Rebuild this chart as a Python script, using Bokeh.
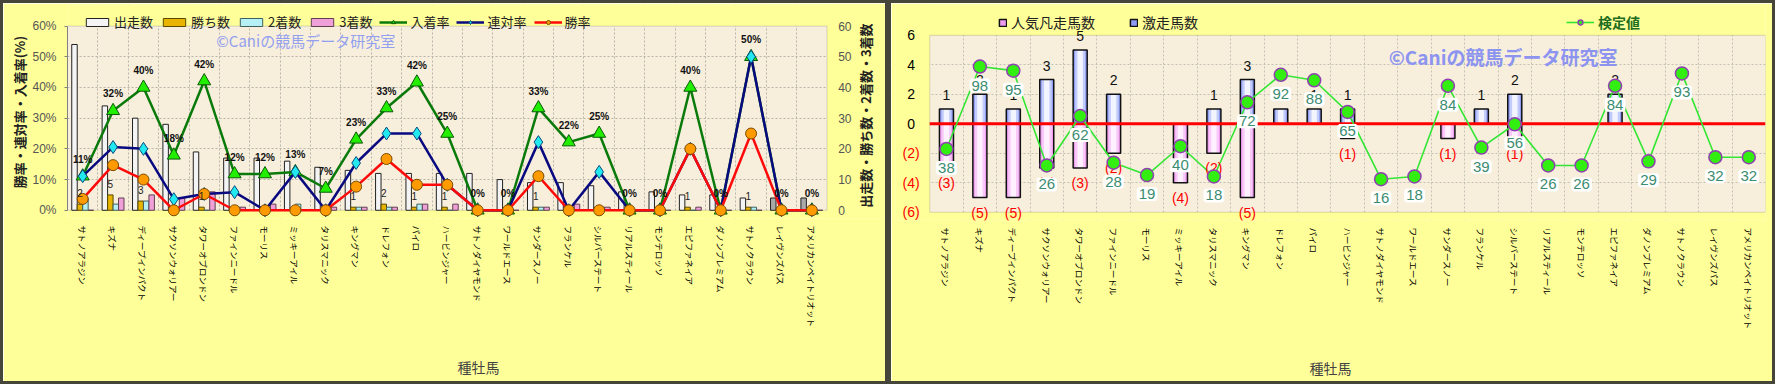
import math
from bokeh.plotting import figure
from bokeh.core.properties import value
from bokeh.models import (ColumnDataSource, Range1d, FixedTicker,
                          CustomJSTickFormatter, PrintfTickFormatter, Legend,
                          LegendItem, LabelSet, Label, BoxAnnotation)
from bokeh.transform import dodge
from bokeh.embed import file_html
from bokeh.resources import INLINE

# ---------------- data ----------------
sires = ["サトノアラジン", "キズナ", "ディープインパクト", "サクソンウォリアー", "タワーオブロンドン",
         "ファインニードル", "モーリス", "ミッキーアイル", "タリスマニック", "キングマン",
         "ドレフォン", "パイロ", "ハービンジャー", "サトノダイヤモンド", "ワールドエース",
         "サンダースノー", "フランケル", "シルバーステート", "リアルスティール", "モンテロッソ",
         "エピファネイア", "ダノンプレミアム", "サトノクラウン", "レイヴンズパス", "アメリカンペイトリオット"]

starts = [54, 34, 30, 28, 19, 17, 17, 16, 14, 13, 12, 12, 12, 12, 10, 9, 9, 8, 6, 6, 5, 5, 4, 4, 4]
wins = [2, 5, 3, 0, 1, 0, 0, 0, 0, 1, 2, 1, 1, 0, 0, 1, 0, 0, 0, 0, 1, 0, 1, 0, 0]
seconds = [4, 2, 3, 1, 0, 1, 0, 2, 0, 1, 1, 2, 0, 0, 0, 1, 0, 1, 0, 0, 0, 0, 1, 0, 0]
thirds = [0, 4, 5, 4, 6, 1, 2, 0, 1, 1, 1, 2, 2, 0, 0, 1, 2, 1, 0, 0, 1, 0, 0, 0, 0]

place_rate = [11.1, 32.4, 40.0, 17.9, 42.1, 11.8, 11.8, 12.5, 7.1, 23.1, 33.3, 41.7, 25.0,
              0, 0, 33.3, 22.2, 25.0, 0, 0, 40.0, 0, 50.0, 0, 0]
quinella_rate = [11.1, 20.6, 20.0, 3.6, 5.3, 5.9, 0, 12.5, 0, 15.4, 25.0, 25.0, 8.3,
                 0, 0, 22.2, 0, 12.5, 0, 0, 20.0, 0, 50.0, 0, 0]
win_rate = [3.7, 14.7, 10.0, 0, 5.3, 0, 0, 0, 0, 7.7, 16.7, 8.3, 8.3,
            0, 0, 11.1, 0, 0, 0, 0, 20.0, 0, 25.0, 0, 0]

upset_counts = [1, 2, 1, 3, 5, 2, 0, 0, 1, 3, 1, 1, 1, 0, 0, 0, 1, 2, 0, 0, 2, 0, 0, 0, 0]
flop_counts = [-3, -5, -5, -3, -3, -2, 0, -4, -2, -5, 0, 0, -1, 0, 0, -1, 0, -1, 0, 0, 0, 0, 0, 0, 0]
test_values = [38, 98, 95, 26, 62, 28, 19, 40, 18, 72, 92, 88, 65, 16, 18, 84, 39, 56, 26, 26, 84, 29, 93, 32, 32]

left_ticks = [0, 10, 20, 30, 40, 50, 60]
right_ticks = [-6, -4, -2, 0, 2, 4, 6]

# ---------------- styles ----------------
JP = "Noto Sans CJK JP"
SANS = value("Liberation Sans")
BG_OUT = "#FFFF99"
BG_IN = "#F7EFDC"
FRAME = "3px solid #45453a"
gray_starts = {"レイヴンズパス", "アメリカンペイトリオット"}
start_fill = ["#A9A9A9" if s in gray_starts else "#F4F4F4" for s in sires]

n = len(sires)
xs = [i + 0.5 for i in range(n)]
name_fmt = CustomJSTickFormatter(args=dict(names=sires), code="return names[Math.floor(tick)] || '';")


def fmt_int(v):
    return str(v) if v else ""


def style_cat_axis(a, standoff):
    a.ticker = FixedTicker(ticks=xs)
    a.formatter = name_fmt
    a.major_label_orientation = "vertical"
    a.major_label_text_font = JP
    a.major_label_text_font_size = "8.5px"
    a.major_label_text_color = "#000000"
    a.major_tick_line_color = None
    a.minor_tick_line_color = None
    a.axis_line_color = None
    a.major_label_standoff = 1
    a.axis_label = "種牡馬"
    a.axis_label_text_font = JP
    a.axis_label_text_font_style = "normal"
    a.axis_label_text_font_size = "14px"
    a.axis_label_text_color = "#444444"
    a.axis_label_standoff = standoff
    a.bounds = (0, n)


def plot_area(p, x0, x1, y0, y1):
    """beige plotting area; yellow covers the frame outside it (over the grid); grey outline"""
    p.add_layout(BoxAnnotation(left=x0, right=x1, bottom=y0, top=y1, fill_color=BG_IN,
                               fill_alpha=1, line_alpha=0, level="image"))
    for kw in (dict(bottom=y1), dict(top=y0), dict(right=x0), dict(left=x1)):
        p.add_layout(BoxAnnotation(fill_color=BG_OUT, fill_alpha=1, line_alpha=0,
                                   level="underlay", **kw))
    p.add_layout(BoxAnnotation(left=x0, right=x1, bottom=y0, top=y1, fill_alpha=0,
                               line_color="#808080", line_width=1, level="underlay"))


# ================= LEFT CHART =================
src1 = ColumnDataSource(dict(
    x=xs, starts=starts, wins=wins, seconds=seconds, thirds=thirds,
    place=place_rate, quin=quinella_rate, win=win_rate, start_fill=start_fill,
    place_lbl=["%d%%" % int(v + 0.5) for v in place_rate],
    win_lbl=[fmt_int(v) for v in wins],
))

PX1 = 179 / left_ticks[-1]          # px per unit in the left chart
X1_RIGHT = n + 62 / 30.16          # frame widened right to hold right tick labels / title
p1 = figure(width=882, height=378, x_range=Range1d(0, X1_RIGHT),
            y_range=Range1d(-8 / PX1, left_ticks[-1] + 20 / PX1),
            output_backend="svg", toolbar_location=None,
            min_border_left=64, min_border_right=2, min_border_top=2, min_border_bottom=169,
            background_fill_color=BG_OUT, border_fill_color=BG_OUT,
            outline_line_color=None,
            styles={"border": FRAME, "box-sizing": "content-box"})

style_cat_axis(p1.xaxis[0], 26)

ay = p1.yaxis[0]
ay.ticker = FixedTicker(ticks=left_ticks)
ay.formatter = PrintfTickFormatter(format="%d%%")
ay.bounds = (0, left_ticks[-1])
ay.major_label_text_font_size = "12px"
ay.major_label_text_color = "#555555"
ay.major_label_text_font = "Liberation Sans"
ay.axis_line_color = "#808080"
ay.major_tick_line_color = "#808080"
ay.major_tick_out = 3
ay.major_tick_in = 0
ay.minor_tick_line_color = None
ay.major_label_standoff = 8
ay.axis_label = "勝率・連対率・入着率(%)"
ay.axis_label_text_font = JP
ay.axis_label_text_font_style = "bold"
ay.axis_label_text_font_size = "13px"
ay.axis_label_text_color = "#222222"
ay.axis_label_standoff = 0

# right-hand count scale (same 0-60 scale), drawn as text beside the plot area
rt_src = ColumnDataSource(dict(y=left_ticks, t=[str(v) for v in left_ticks]))
p1.add_layout(LabelSet(x=n + 11 / 30.16, y="y", text="t", source=rt_src, text_align="left",
                       text_baseline="middle", text_font=SANS, text_font_size="12px",
                       text_color="#555555"))
p1.add_layout(Label(x=n + 38 / 30.16, y=92 / PX1, angle=math.pi / 2,
                    text="出走数・勝ち数・2着数・3着数", text_font=JP, text_font_style="bold",
                    text_font_size="13px", text_align="center", text_baseline="middle",
                    text_color="#222222"))

p1.xgrid.ticker = FixedTicker(ticks=list(range(1, n)))
p1.ygrid.ticker = FixedTicker(ticks=left_ticks[1:-1])
for g in (p1.xgrid[0], p1.ygrid[0]):
    g.grid_line_color = "#B8B4AA"
    g.grid_line_dash = "2 2"
    g.grid_line_width = 1
plot_area(p1, 0, n, 0, left_ticks[-1])

bw = 0.18
r_st = p1.vbar(x=dodge("x", -0.27), top="starts", width=bw, source=src1,
               fill_color="start_fill", line_color="#222222", line_width=1)
r_w = p1.vbar(x=dodge("x", -0.09), top="wins", width=bw, source=src1,
              fill_color="#E8B400", line_color="#5a4a00", line_width=1)
r_2 = p1.vbar(x=dodge("x", 0.09), top="seconds", width=bw, source=src1,
              fill_color="#B4F0F4", line_color="#406060", line_width=1)
r_3 = p1.vbar(x=dodge("x", 0.27), top="thirds", width=bw, source=src1,
              fill_color="#F0A0D8", line_color="#604050", line_width=1)

l_pl = p1.line("x", "place", source=src1, line_color="#0A7A0A", line_width=2.5)
s_pl = p1.scatter("x", "place", source=src1, marker="triangle", size=13,
                  fill_color="#22EE00", line_color="#0A5A0A", line_width=1)
l_qu = p1.line("x", "quin", source=src1, line_color="#0A0A80", line_width=2.5)
s_qu = p1.scatter("x", "quin", source=src1, marker="diamond", size=13,
                  fill_color="#22E8F0", line_color="#0A4A80", line_width=1)
l_wi = p1.line("x", "win", source=src1, line_color="#FF0A0A", line_width=2.5)
s_wi = p1.scatter("x", "win", source=src1, marker="circle", size=11,
                  fill_color="#FF9A00", line_color="#7A4A00", line_width=1)

p1.add_layout(LabelSet(x="x", y="place", text="place_lbl", source=src1, y_offset=17,
                       text_align="center", text_baseline="middle",
                       text_font=SANS, text_font_style="bold",
                       text_font_size="10px", text_color="#111111"))
p1.add_layout(LabelSet(x=dodge("x", -0.09), y="wins", text="win_lbl", source=src1, y_offset=11,
                       text_align="center", text_baseline="middle",
                       text_font=SANS, text_font_size="10px", text_color="#222222"))

p1.add_layout(Label(x=4.9, y=55.3, text="©Caniの競馬データ研究室", text_font=JP,
                    text_font_size="15px", text_color="#93A0F0", text_baseline="middle"))

leg1 = Legend(items=[
    LegendItem(label="出走数", renderers=[r_st]),
    LegendItem(label="勝ち数", renderers=[r_w]),
    LegendItem(label="2着数", renderers=[r_2]),
    LegendItem(label="3着数", renderers=[r_3]),
    LegendItem(label="入着率", renderers=[l_pl, s_pl]),
    LegendItem(label="連対率", renderers=[l_qu, s_qu]),
    LegendItem(label="勝率", renderers=[l_wi, s_wi]),
], orientation="horizontal", location=(16, 187), glyph_width=28, glyph_height=10,
    label_text_font=JP, label_text_font_size="13px", label_text_color="#222222",
    spacing=7, padding=0, margin=0, label_standoff=3, label_height=16,
    border_line_alpha=0, background_fill_alpha=0)
p1.add_layout(leg1)

# ================= RIGHT CHART =================
src2 = ColumnDataSource(dict(
    x=xs, upset=upset_counts, flop=flop_counts, kentei=test_values,
    upset_lbl=[fmt_int(v) for v in upset_counts],
    flop_lbl=["(%d)" % -v if v else "" for v in flop_counts],
    kentei_lbl=[str(v) for v in test_values],
))

PX2 = 172 / (right_ticks[-1] - right_ticks[0])
Y2_LO = right_ticks[0] - 8 / PX2
Y2_HI = right_ticks[-1] + 29 / PX2
p2 = figure(width=881, height=378, x_range=Range1d(-34 / 33.2, n), y_range=Range1d(Y2_LO, Y2_HI),
            output_backend="svg", toolbar_location=None,
            min_border_left=4, min_border_right=13, min_border_top=2, min_border_bottom=167,
            background_fill_color=BG_OUT, border_fill_color=BG_OUT,
            outline_line_color=None,
            styles={"border": FRAME, "box-sizing": "content-box",
                    "position": "absolute", "left": "888px", "top": "0px"})
# 検定値 scale (hidden): same pixel mapping
p2.extra_y_ranges = {"kentei": Range1d((Y2_LO + 5.25) / 0.0932, (Y2_HI + 5.25) / 0.0932)}

style_cat_axis(p2.xaxis[0], 25)
p2.yaxis.visible = False

p2.xgrid.ticker = FixedTicker(ticks=list(range(1, n)))
p2.ygrid.ticker = FixedTicker(ticks=[-4, -2, 2, 4])
for g in (p2.xgrid[0], p2.ygrid[0]):
    g.grid_line_color = "#C4C0B6"
    g.grid_line_dash = "2 2"
    g.grid_line_width = 1
plot_area(p2, 0, n, right_ticks[0], right_ticks[-1])

tick_src = ColumnDataSource(dict(
    y=right_ticks,
    t=["(%d)" % -v if v < 0 else str(v) for v in right_ticks],
    c=["#FF0000" if v < 0 else "#000000" for v in right_ticks],
))
p2.add_layout(LabelSet(x=-0.557, y="y", text="t", source=tick_src, text_align="center",
                       text_baseline="middle", text_font=SANS,
                       text_font_size="14px", text_color="c"))

# bars with a simple layered shading
r_flop = p2.vbar(x="x", top=0, bottom="flop", width=0.42, source=src2,
                 fill_color="#EE9CEE", line_color=None)
p2.vbar(x="x", top=0, bottom="flop", width=0.30, source=src2, fill_color="#F8CAF8", line_color=None)
p2.vbar(x="x", top=0, bottom="flop", width=0.16, source=src2, fill_color="#FFF0FF", line_color=None)
r_flop_o = p2.vbar(x="x", top=0, bottom="flop", width=0.42, source=src2, fill_alpha=0,
                   line_color="#111111", line_width=1.5)

r_up = p2.vbar(x="x", top="upset", bottom=0, width=0.42, source=src2,
               fill_color="#8E9CF2", line_color=None)
p2.vbar(x="x", top="upset", bottom=0, width=0.30, source=src2, fill_color="#C4CCFA", line_color=None)
p2.vbar(x="x", top="upset", bottom=0, width=0.16, source=src2, fill_color="#F2F4FF", line_color=None)
r_up_o = p2.vbar(x="x", top="upset", bottom=0, width=0.42, source=src2, fill_alpha=0,
                 line_color="#111111", line_width=1.5)

p2.add_layout(LabelSet(x="x", y="upset", text="upset_lbl", source=src2, y_offset=14,
                       text_align="center", text_baseline="middle",
                       text_font=SANS, text_font_size="14px", text_color="#111111"))
p2.add_layout(LabelSet(x="x", y="flop", text="flop_lbl", source=src2, y_offset=-15,
                       text_align="center", text_baseline="middle",
                       text_font=SANS, text_font_size="14px", text_color="#FF0000"))

# zero reference line across the plot area
p2.segment(x0=0, y0=0, x1=n, y1=0, line_color="#FF0000", line_width=3)

l_k = p2.line("x", "kentei", source=src2, y_range_name="kentei", line_color="#33E633", line_width=1.6)
s_k = p2.scatter("x", "kentei", source=src2, y_range_name="kentei", marker="circle", size=13,
                 fill_color="#33EE11", line_color="#9040B0", line_width=1.5)
s_k.level = "overlay"

p2.add_layout(LabelSet(x="x", y="kentei", y_range_name="kentei", text="kentei_lbl", source=src2,
                       y_offset=-19, text_align="center", text_baseline="middle",
                       text_font=SANS, text_font_size="15px", text_color="#3C8C70",
                       background_fill_color="#FFFFFF",
                       border_line_color="#FFFFFF", border_line_width=4))

p2.add_layout(Label(x=13.73, y=4.59, text="©Caniの競馬データ研究室", text_font=JP,
                    text_font_style="bold", text_font_size="19px", text_color="#8C94F0",
                    text_baseline="middle"))

leg2 = Legend(items=[
    LegendItem(label="人気凡走馬数", renderers=[r_flop, r_flop_o]),
    LegendItem(label="激走馬数", renderers=[r_up, r_up_o]),
], orientation="horizontal", location=(103, 188), glyph_width=9, glyph_height=9,
    label_text_font=JP, label_text_font_size="14px", label_text_color="#222222",
    spacing=34, padding=0, margin=0, label_standoff=4, label_height=15,
    border_line_alpha=0, background_fill_alpha=0)
leg3 = Legend(items=[LegendItem(label="検定値", renderers=[l_k, s_k])],
              orientation="horizontal", location=(671, 188), glyph_width=28, glyph_height=12,
              label_text_font=JP, label_text_font_size="14px", label_text_color="#1E6E1E",
              label_text_font_style="bold", padding=0, margin=0, label_standoff=4, label_height=15,
              border_line_alpha=0, background_fill_alpha=0)
p2.add_layout(leg2)
p2.add_layout(leg3)

open("out.html", "w").write(file_html([p1, p2], INLINE))
